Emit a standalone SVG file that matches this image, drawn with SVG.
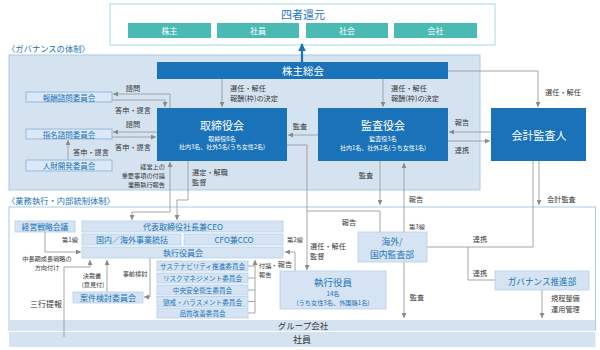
<svg xmlns="http://www.w3.org/2000/svg" width="600" height="350" viewBox="0 0 600 350">
<defs>
<style>
text{font-family:'Noto Sans CJK JP','Noto Sans',sans-serif;dominant-baseline:central;}
.c{text-anchor:middle;}
.r{text-anchor:end;}
.lb{fill:#3a3a3a;font-size:7.2px;}
.sm{fill:#3a3a3a;font-size:6.2px;}
.wt{fill:#fff;}
.bt{fill:#1a73b9;}
.dn{fill:#1a73b9;}
.ln{fill:#d5e3f2;stroke:#b3cfea;stroke-width:0.8;}
.cm{fill:#dce8f5;stroke:#8db7df;stroke-width:0.9;}
.tl{fill:#4cbab4;}
#connectors path{fill:none;stroke:#9c9c9c;stroke-width:0.9;}
</style>
<marker id="ah" viewBox="0 0 10 10" refX="10" refY="5" markerWidth="5" markerHeight="5" orient="auto" markerUnits="userSpaceOnUse"><path d="M0,0 L10,5 L0,10 z" fill="#8a8a8a"/></marker>
<marker id="ab" viewBox="0 0 10 10" refX="9" refY="5" markerWidth="8" markerHeight="8" orient="auto" markerUnits="userSpaceOnUse"><path d="M0,0 L10,5 L0,10 z" fill="#1a73b9"/></marker>
</defs>

<!-- backgrounds -->
<rect x="110" y="4" width="385" height="41" fill="#fff" stroke="#a6dbe0" stroke-width="1"/>
<text x="303" y="14" class="c bt" font-size="11">四者還元</text>
<text x="7" y="48" class="bt" font-size="8.3">〈ガバナンスの体制〉</text>
<rect x="9" y="55" width="471" height="135" fill="#d5e3f1" stroke="#a9c9e6" stroke-width="1"/>
<text x="7" y="200" class="bt" font-size="8.3">〈業務執行・内部統制体制〉</text>
<rect x="9" y="207" width="586.5" height="123" fill="#fff" stroke="#a9c9e6" stroke-width="1"/>

<g id="stakeholders">
<rect x="128" y="23" width="83" height="15" class="tl"/><text x="169.5" y="30.5" class="c wt" font-size="8">株主</text>
<rect x="217" y="23" width="82" height="15" class="tl"/><text x="258" y="30.5" class="c wt" font-size="8">社員</text>
<rect x="306" y="23" width="82" height="15" class="tl"/><text x="347" y="30.5" class="c wt" font-size="8">社会</text>
<rect x="394" y="23" width="83" height="15" class="tl"/><text x="435.5" y="30.5" class="c wt" font-size="8">会社</text>
</g>

<g id="connectors">
<path d="M302,62 V44" style="stroke:#1a73b9;stroke-width:2.2" marker-end="url(#ab)"/>
<path d="M222,79 V107" marker-end="url(#ah)"/>
<path d="M383,79 V107" marker-end="url(#ah)"/>
<path d="M448,71 H538 V107" marker-end="url(#ah)"/>
<path d="M170,108 V94 H113" marker-end="url(#ah)"/>
<path d="M112,100 H165 V107" marker-end="url(#ah)"/>
<path d="M157,132 H113" marker-end="url(#ah)"/>
<path d="M112,137 H156" marker-end="url(#ah)"/>
<path d="M68,160 V140" marker-end="url(#ah)"/>
<path d="M170,212 V162" marker-end="url(#ah)"/>
<path d="M170,212 H132 V220" marker-end="url(#ah)"/>
<path d="M188,161 V200 H177 V220" marker-end="url(#ah)"/>
<path d="M318,135 H288" marker-end="url(#ah)"/>
<path d="M287,145 H307 V270" marker-end="url(#ah)"/>
<path d="M491,132 H449" marker-end="url(#ah)"/>
<path d="M448,141 H490" marker-end="url(#ah)"/>
<path d="M380,161 V205" marker-end="url(#ah)"/>
<path d="M404,232 V163" marker-end="url(#ah)"/>
<path d="M539,161 V205" marker-end="url(#ah)"/>
<path d="M533,161 V247 H427"/>
<path d="M468,247 V280 H495"/>
<path d="M542,290 V318" marker-end="url(#ah)"/>
<path d="M404,262 V318" marker-end="url(#ah)"/>
<path d="M380,232 V211 H307"/>
<path d="M295,271 V252 H285" marker-end="url(#ah)"/>
<path d="M45,232 V252 H81" marker-end="url(#ah)"/>
<path d="M107,292 V260" marker-end="url(#ah)"/>
<path d="M150,258 V297 H144" marker-end="url(#ah)"/>
<path d="M248,266 H255 M248,278 H255 M248,290 H255 M248,301.5 H255 M248,313 H255 M255,313 V260" marker-end="url(#ah)"/>
</g>

<g id="bars">
<rect x="10" y="320" width="585" height="10" fill="#d5e3f1"/>
<text x="303" y="325" class="c" fill="#333" font-size="8.5">グループ会社</text>
<rect x="9" y="332" width="586.5" height="15" fill="#d5e3f1"/>
<text x="302" y="339.5" class="c" fill="#333" font-size="9">社員</text>
</g>
<g id="c-sankou"><path d="M64,337 V267 H90 V260" fill="none" stroke="#9c9c9c" stroke-width="0.9" marker-end="url(#ah)"/></g>

<g id="soukai"><rect x="157" y="62" width="291" height="17" class="dn"/><text x="303" y="70.5" class="c wt" font-size="10.5">株主総会</text></g>
<g id="torishimariyakukai"><rect x="157" y="108" width="130" height="53" class="dn"/>
<text x="222" y="125" class="c wt" font-size="11">取締役会</text>
<text x="222" y="138" class="c wt" font-size="6">取締役8名</text>
<text x="222" y="146.5" class="c wt" font-size="6">社内3名、社外5名(うち女性2名)</text></g>
<g id="kansayakukai"><rect x="318" y="108" width="130" height="53" class="dn"/>
<text x="383" y="125" class="c wt" font-size="11">監査役会</text>
<text x="383" y="138.5" class="c wt" font-size="6">監査役3名</text>
<text x="383" y="147" class="c wt" font-size="6">社内1名、社外2名(うち女性1名)</text></g>
<g id="kaikei"><rect x="491" y="108" width="95" height="53" class="dn"/><text x="539" y="135" class="c wt" font-size="11">会計監査人</text></g>

<g id="houshu"><rect x="26" y="92" width="86" height="10" class="cm"/><text x="69" y="97" class="c bt" font-size="7.5">報酬諮問委員会</text></g>
<g id="shimei"><rect x="26" y="129" width="86" height="10" class="cm"/><text x="69" y="134" class="c bt" font-size="7.5">指名諮問委員会</text></g>
<g id="jinzai"><rect x="26" y="160" width="86" height="11" class="cm"/><text x="69" y="165.5" class="c bt" font-size="7.5">人財開発委員会</text></g>

<g id="labels">
<text x="230" y="88" class="lb">選任・解任</text>
<text x="230" y="98" class="lb">報酬(枠)の決定</text>
<text x="391" y="88" class="lb">選任・解任</text>
<text x="391" y="98" class="lb">報酬(枠)の決定</text>
<text x="545" y="92" class="lb">選任・解任</text>
<text x="133" y="87.5" class="c lb">諮問</text>
<text x="133" y="110" class="c lb">答申・提言</text>
<text x="133" y="124" class="c lb">諮問</text>
<text x="133" y="146.5" class="c lb">答申・提言</text>
<text x="73" y="152" class="lb">答申・提言</text>
<text x="165" y="166.5" class="r sm">経営上の</text>
<text x="165" y="175.5" class="r sm">重要事項の付議</text>
<text x="165" y="184.5" class="r sm">業務執行報告</text>
<text x="192" y="172" class="lb">選定・解職</text>
<text x="192" y="181.5" class="lb">監督</text>
<text x="300" y="126" class="c lb">監査</text>
<text x="462" y="122" class="c lb">報告</text>
<text x="462" y="150" class="c lb">連携</text>
<text x="366" y="175" class="c lb">監査</text>
<text x="416" y="199" class="c lb">報告</text>
<text x="547" y="199" class="lb">会計監査</text>
<text x="349" y="222" class="c lb">報告</text>
<text x="417" y="226" class="c sm" font-size="6">第3線</text>
<text x="480" y="239" class="c lb">連携</text>
<text x="480" y="273" class="c lb">連携</text>
<text x="417" y="297" class="c lb">監査</text>
<text x="551" y="298" class="lb">規程整備</text>
<text x="551" y="308.5" class="lb">運用管理</text>
<text x="310" y="245.5" class="lb">選任・解任</text>
<text x="310" y="255.5" class="lb">監督</text>
<text x="285" y="263.5" class="c lb">報告</text>
<text x="295" y="239" class="c sm">第2線</text>
<text x="70" y="239" class="c sm">第1線</text>
<text x="47" y="258.5" class="c sm">中長期成長戦略の</text>
<text x="47" y="267.5" class="c sm">方向付け</text>
<text x="46" y="303" class="c" fill="#333" font-size="8">三行提報</text>
<text x="92" y="275.5" class="c sm">決裁書</text>
<text x="93" y="284.5" class="c sm">(意見付)</text>
<text x="135" y="273" class="c sm">事前検討</text>
<text x="259" y="265" class="sm">付議・</text>
<text x="259" y="274" class="sm">報告</text>
</g>

<g id="senryaku"><rect x="15" y="221" width="60" height="11" class="ln"/><text x="45" y="226.5" class="c bt" font-size="7.8">経営戦略会議</text></g>
<g id="ceo"><rect x="82" y="221" width="201" height="11" class="ln"/><text x="183" y="226.5" class="c bt" font-size="8">代表取締役社長兼CEO</text></g>
<g id="jigyou"><rect x="82" y="234" width="99" height="11" class="ln"/><text x="132" y="239.5" class="c bt" font-size="8">国内／海外事業統括</text></g>
<g id="cfo"><rect x="184" y="234" width="99" height="11" class="ln"/><text x="234" y="239.5" class="c bt" font-size="8">CFO兼CCO</text></g>
<g id="shikkoukai"><rect x="82" y="247" width="201" height="11" class="ln"/><text x="183" y="252.5" class="c bt" font-size="8">執行役員会</text></g>
<g id="anken"><rect x="73" y="292" width="70" height="11" class="ln"/><text x="108" y="297.5" class="c bt" font-size="8">案件検討委員会</text></g>
<g id="com1"><rect x="157" y="261" width="91" height="10" class="ln"/><text x="202.5" y="266" class="c bt" font-size="6.6">サステナビリティ推進委員会</text></g>
<g id="com2"><rect x="157" y="273" width="91" height="10" class="ln"/><text x="202.5" y="278" class="c bt" font-size="6.6">リスクマネジメント委員会</text></g>
<g id="com3"><rect x="157" y="285" width="91" height="10" class="ln"/><text x="202.5" y="290" class="c bt" font-size="6.6">中央安全衛生委員会</text></g>
<g id="com4"><rect x="157" y="296.5" width="91" height="10" class="ln"/><text x="202.5" y="301.5" class="c bt" font-size="6.6">懲戒・ハラスメント委員会</text></g>
<g id="com5"><rect x="157" y="308" width="91" height="10" class="ln"/><text x="202.5" y="313" class="c bt" font-size="6.6">品質改善委員会</text></g>
<g id="shikkouyakuin"><rect x="280" y="271" width="106" height="38" class="ln"/>
<text x="333" y="282" class="c bt" font-size="9.5">執行役員</text>
<text x="333" y="293" class="c bt" font-size="6.2">14名</text>
<text x="333" y="302" class="c bt" font-size="6.2">(うち女性3名、外国籍1名)</text></g>
<g id="kansabu"><rect x="358" y="232" width="69" height="30" class="ln"/>
<text x="392" y="241.5" class="c bt" font-size="8.8">海外/</text>
<text x="392" y="254.5" class="c bt" font-size="8.8">国内監査部</text></g>
<g id="governance"><rect x="495" y="271" width="94" height="19" class="ln"/><text x="542" y="280.5" class="c bt" font-size="8.6">ガバナンス推進部</text></g>
</svg>
